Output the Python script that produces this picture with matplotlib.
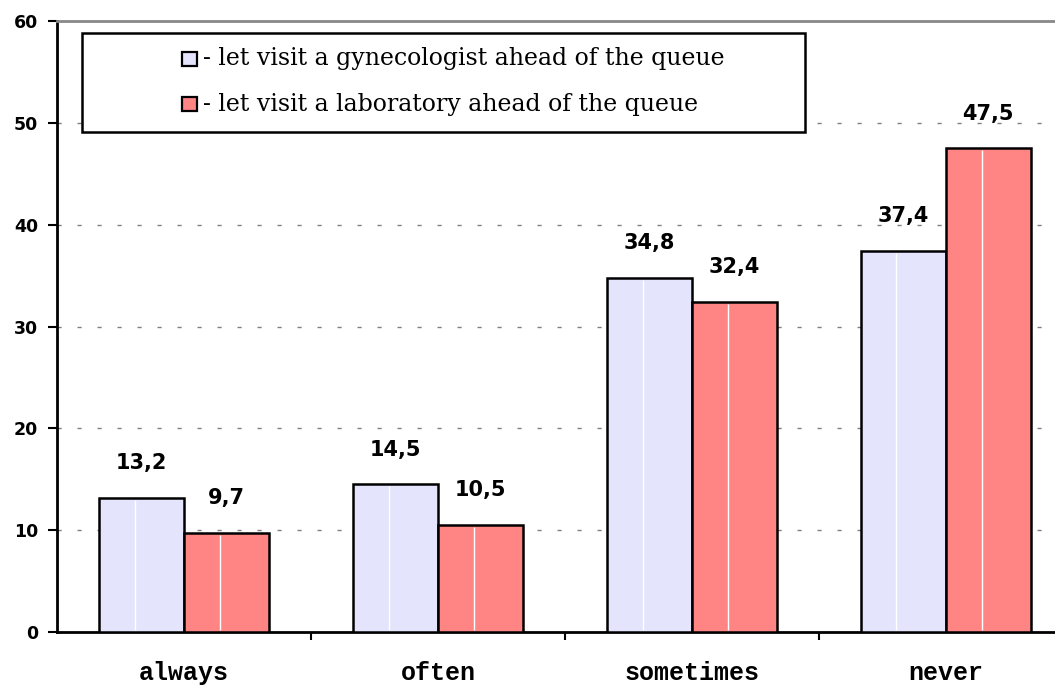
import matplotlib
matplotlib.use("Agg")
import matplotlib.pyplot as plt
from matplotlib.patches import Rectangle
import numpy as np

categories = ["always", "often", "sometimes", "never"]
gyneco = [13.2, 14.5, 34.8, 37.4]
laboratory = [9.7, 10.5, 32.4, 47.5]
series_names = ["- let visit a gynecologist ahead of the queue",
                "- let visit a laboratory ahead of the queue"]
yticks = [0, 10, 20, 30, 40, 50, 60]

W, H = 1055, 688
fig = plt.figure(figsize=(W / 100, H / 100), dpi=100)
ax = fig.add_axes([57 / W, 1 - 632 / H, 1 - 57 / W, (632 - 21) / H])

x = np.arange(len(categories))
bw = 0.335
blue = "#E4E4FC"
red = "#FF8484"
colors = [blue, red]
b1 = ax.bar(x - bw / 2, gyneco, bw, color=blue, edgecolor="black", linewidth=1.8, zorder=3)
b2 = ax.bar(x + bw / 2, laboratory, bw, color=red, edgecolor="black", linewidth=1.8, zorder=3)

# faint white stripe inside each bar, as in the original rendering
for bars, vals in ((b1, gyneco), (b2, laboratory)):
    for r, v in zip(bars, vals):
        xs = r.get_x() + r.get_width() * 0.42
        ax.vlines(xs, 0.15, v - 0.2, color="white", linewidth=1, zorder=4)

def fmt(v):
    return f"{v:.1f}".replace(".", ",")

for bars, vals in ((b1, gyneco), (b2, laboratory)):
    for r, v in zip(bars, vals):
        ax.annotate(fmt(v), (r.get_x() + r.get_width() / 2, v), xytext=(0, 25),
                    textcoords="offset points", ha="center", va="center",
                    fontsize=15, fontweight="bold", family="DejaVu Sans", zorder=5)

ax.set_xlim(-0.5, 3.43)
ax.set_ylim(0, 60)
ax.set_yticks(yticks)
ax.set_yticklabels([str(t) for t in yticks], fontsize=12.5, fontweight="bold", family="DejaVu Sans")
ax.set_xticks(x)
ax.set_xticklabels(categories, fontsize=18, fontweight="bold", family="Liberation Mono")
ax.tick_params(axis="x", which="major", length=0, pad=21)
ax.set_xticks([0.5, 1.5, 2.5], minor=True)
ax.tick_params(axis="x", which="minor", length=6, width=1.5, direction="out")
ax.tick_params(axis="y", length=6.5, width=1.5, pad=7)

for yv in yticks[1:-1]:
    ax.axhline(yv, color="#808080", linewidth=1, linestyle=(0, (3, 11.4)), zorder=1)

ax.spines["right"].set_visible(False)
ax.spines["top"].set_color("#888888")
ax.spines["top"].set_linewidth(2)
ax.spines["left"].set_linewidth(2)
ax.spines["bottom"].set_linewidth(2)

# legend box drawn in figure pixel coordinates
def fx(px):
    return px / W

def fy(py):
    return 1 - py / H

fig.patches.append(Rectangle((fx(82), fy(132)), fx(805) - fx(82), fy(33) - fy(132),
                             transform=fig.transFigure, facecolor="white",
                             edgecolor="black", linewidth=1.8, zorder=6))
row_y = [59, 104]
for name, col, ry in zip(series_names, colors, row_y):
    fig.patches.append(Rectangle((fx(182), fy(ry + 7)), fx(197) - fx(182), fy(ry - 7) - fy(ry + 7),
                                 transform=fig.transFigure, facecolor=col,
                                 edgecolor="black", linewidth=1.6, zorder=7))
    fig.text(fx(203), fy(ry), name, ha="left", va="center", family="DejaVu Serif",
             fontsize=17, zorder=8)

fig.savefig("out.png", dpi=100)
